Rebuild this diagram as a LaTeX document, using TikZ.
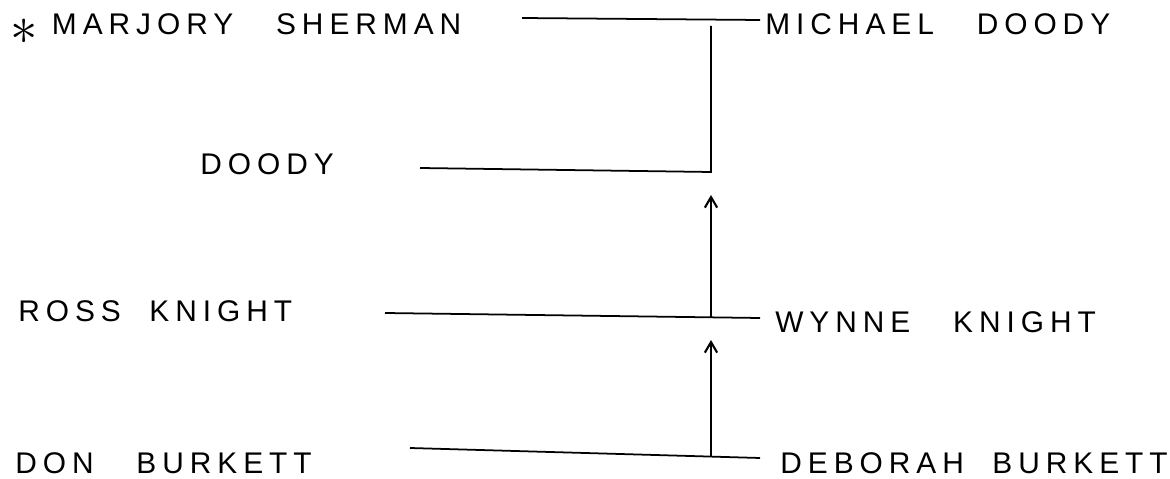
\documentclass[tikz,border=0pt]{standalone}
\usepackage{fontspec}
\setmainfont{Liberation Sans}
\usepackage{tikz}
\usetikzlibrary{arrows.meta}

\tikzset{
	person/.style={anchor=base west, inner sep=0pt, font=\fontsize{17}{20}\selectfont\addfontfeature{LetterSpace=20}},
	bond/.style={black, line width=1pt},
	descent/.style={black, line width=1.2pt, -{Straight Barb[length=6pt,width=7pt]}}
}
\newcommand{\bigast}{\raisebox{-0.6ex}{\scalebox{1.8}{$\ast$}}}

\begin{document}
\begin{tikzpicture}[x=0.02cm, y=0.02cm]
		\useasboundingbox (0,0) rectangle (1170,-479);
		% names, left column
		\node [person] (ms) at (10,-35) {\bigast\ MARJORY\ \ \ SHERMAN};
		\node [person] (dy) at (200,-175) {DOODY};
		\node [person] (rk) at (18,-322) {ROSS\ \ KNIGHT};
		\node [person] (db) at (15,-474) {DON\ \ \ BURKETT};
		% names, right column
		\node [person] (md) at (765,-35) {MICHAEL\ \ \ DOODY};
		\node [person] (wk) at (775,-333) {WYNNE\ \ \ KNIGHT};
		\node [person] (bb) at (780,-474) {DEBORAH\ \ BURKETT};
		% line ends
		\coordinate (ms1) at (522,-18);
		\coordinate (ms2) at (760,-20);
		\coordinate (j1) at (711,-26);
		\coordinate (dy1) at (420,-168);
		\coordinate (dy2) at (711,-172);
		\coordinate (rk1) at (385,-313);
		\coordinate (rk2) at (760,-318);
		\coordinate (rk3) at (711,-317);
		\coordinate (db1) at (410,-448);
		\coordinate (db2) at (760,-458);
		\coordinate (db3) at (711,-457);
		\coordinate (up1) at (711,-195);
		\coordinate (up2) at (711,-340);
		% couples
		\draw [bond] (ms1) -- (ms2);
		\draw [bond] (dy1) -- (dy2) -- (j1);
		\draw [bond] (rk1) -- (rk2);
		\draw [bond] (db1) -- (db2);
		% descent
		\draw [descent] (rk3) -- (up1);
		\draw [descent] (db3) -- (up2);
\end{tikzpicture}
\end{document}
